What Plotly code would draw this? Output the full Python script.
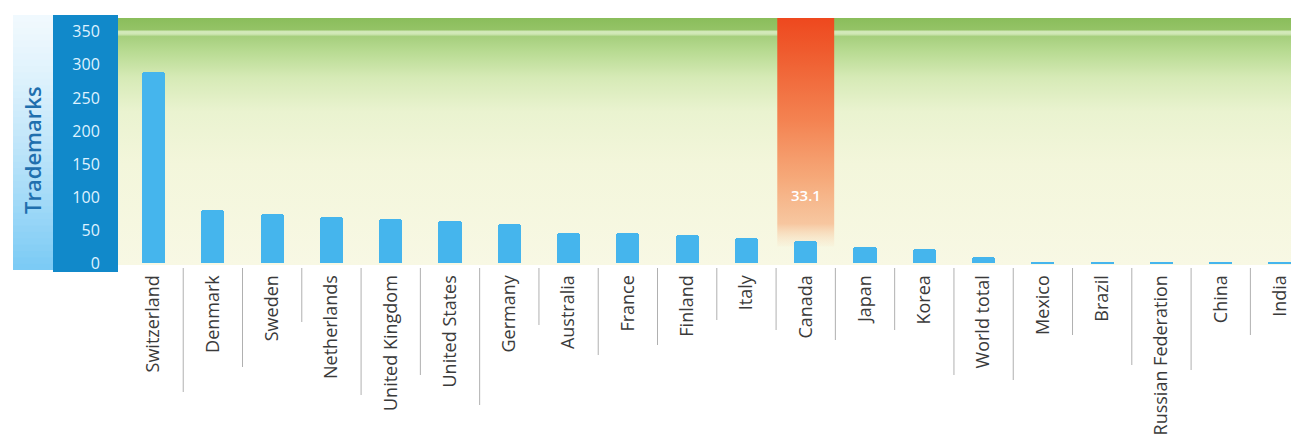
import plotly.graph_objects as go

# ---------------- data ----------------
countries = ["Switzerland", "Denmark", "Sweden", "Netherlands", "United Kingdom",
             "United States", "Germany", "Australia", "France", "Finland", "Italy",
             "Canada", "Japan", "Korea", "World total", "Mexico", "Brazil",
             "Russian Federation", "China", "India"]
trademarks = [289, 80, 74, 70, 67, 64, 59, 45, 45, 42, 38, 33.1, 24, 21, 9,
              0.8, 0.6, 0.5, 0.4, 0.3]
highlight = "Canada"
y_ticks = [0, 50, 100, 150, 200, 250, 300, 350]
y_title = "Trademarks"

# ---------------- geometry helpers (layout only) ----------------
OFF = 8                     # page body margin
W, H = 1299 - OFF, 441 - OFF
ML, MR, MT, MB = 118 - OFF, 0, 18 - OFF, 176
PW, PH = W - ML - MR, H - MT - MB
Y_RANGE = [-3, 371]
X_RANGE = [-0.6, 19.32]


def px2x(px):
    return (px - OFF - ML) / PW


def py2y(py):
    return (H - MB - (py - OFF)) / PH


idx = list(range(len(countries)))
hi = countries.index(highlight)

fig = go.Figure()

# background gradient of the plotting area (base axes)
fig.add_trace(go.Scatter(
    x=[X_RANGE[0], X_RANGE[1], X_RANGE[1], X_RANGE[0], X_RANGE[0]],
    y=[Y_RANGE[0], Y_RANGE[0], Y_RANGE[1], Y_RANGE[1], Y_RANGE[0]],
    mode="lines", line=dict(width=0), fill="toself",
    fillgradient=dict(type="vertical", colorscale=[
        [0.0, "#f8f8e4"], [0.41, "#f3f6db"], [0.62, "#eaf3d0"],
        [0.76, "#d6eab6"], [0.864, "#b8db92"], [0.925, "#a6cf7d"],
        [0.935, "#cfe7b4"], [0.945, "#d4eabc"], [0.953, "#94c366"],
        [1.0, "#8abd5b"]]),
    hoverinfo="skip", showlegend=False))

# highlight column behind Canada
fig.add_trace(go.Scatter(
    x=[hi - 0.48, hi + 0.48, hi + 0.48, hi - 0.48, hi - 0.48],
    y=[25, 25, Y_RANGE[1], Y_RANGE[1], 25],
    mode="lines", line=dict(width=0), fill="toself",
    fillgradient=dict(type="vertical", colorscale=[
        [0.0, "rgba(250,215,180,0.1)"], [0.1, "rgba(247,182,138,0.75)"],
        [0.3, "rgba(246,160,110,0.9)"], [0.55, "rgba(244,125,75,0.95)"],
        [1.0, "rgba(238,72,30,1)"]]),
    hoverinfo="skip", showlegend=False))

# bars (overlay axes so they sit above the gradient fills)
fig.add_trace(go.Bar(
    x=idx, y=trademarks, width=0.39, xaxis="x2", yaxis="y2",
    marker=dict(color="#45b5ed", line=dict(width=0), cornerradius=3),
    hoverinfo="y", showlegend=False))

# highlight value label
fig.add_annotation(x=hi, y=103, xref="x", yref="y", text=f"{trademarks[hi]:.1f}",
                   showarrow=False,
                   font=dict(family="Open Sans", size=15, color="white", weight=600))

shapes = []
# light blue strip (vertical gradient) left of the axis band
n = 40
top_px, bot_px = 15, 270
c0, c1 = (240, 249, 254), (124, 203, 245)
for i in range(n):
    t = (i / (n - 1)) ** 1.3
    col = tuple(int(c0[k] + (c1[k] - c0[k]) * t) for k in range(3))
    y0 = top_px + (bot_px - top_px) * i / n
    y1 = top_px + (bot_px - top_px) * (i + 1) / n + 1.5
    shapes.append(dict(type="rect", xref="paper", yref="paper",
                       x0=px2x(13), x1=px2x(53.5), y0=py2y(min(y1, bot_px)), y1=py2y(y0),
                       fillcolor="rgb(%d,%d,%d)" % col, line=dict(width=0), layer="below"))
# dark blue axis band
shapes.append(dict(type="rect", xref="paper", yref="paper",
                   x0=px2x(53), x1=px2x(118), y0=py2y(272), y1=py2y(15),
                   fillcolor="#1189ca", line=dict(width=0), layer="below"))

# separators between category labels
sep_end_px = [392, 367, 322, 395, 375, 405, 325, 355, 345, 320, 330, 340, 330,
              375, 380, 335, 365, 370, 335]
for i, end in enumerate(sep_end_px):
    shapes.append(dict(type="line", xref="x", yref="paper",
                       x0=i + 0.5, x1=i + 0.5, y0=py2y(268), y1=py2y(end),
                       line=dict(color="#b0b0b0", width=1)))

fig.add_annotation(x=px2x(32), y=py2y(150), xref="paper", yref="paper",
                   xanchor="center", yanchor="middle",
                   text=y_title, textangle=-90, showarrow=False,
                   font=dict(family="Open Sans", size=22, color="#1f6fae", weight=600))

axis_common = dict(showgrid=False, zeroline=False, showline=False, fixedrange=True)
fig.update_layout(
    width=W, height=H,
    margin=dict(l=ML, r=MR, t=MT, b=MB, pad=0),
    paper_bgcolor="white", plot_bgcolor="rgba(0,0,0,0)",
    shapes=shapes, bargap=0,
    xaxis=dict(range=X_RANGE, tickmode="array", tickvals=idx, ticktext=countries,
               tickangle=-90, ticks="outside", ticklen=2, tickcolor="rgba(0,0,0,0)",
               tickfont=dict(family="Open Sans", size=18, color="#3a3a3a"),
               **axis_common),
    yaxis=dict(range=Y_RANGE, tickmode="array", tickvals=y_ticks,
               ticks="outside", ticklen=14, tickcolor="rgba(0,0,0,0)",
               tickfont=dict(family="Open Sans", size=16, color="#dff2ff"),
               **axis_common),
    xaxis2=dict(range=X_RANGE, overlaying="x", visible=False, **axis_common),
    yaxis2=dict(range=Y_RANGE, overlaying="y", visible=False, **axis_common),
)

fig.write_html("out.html")
